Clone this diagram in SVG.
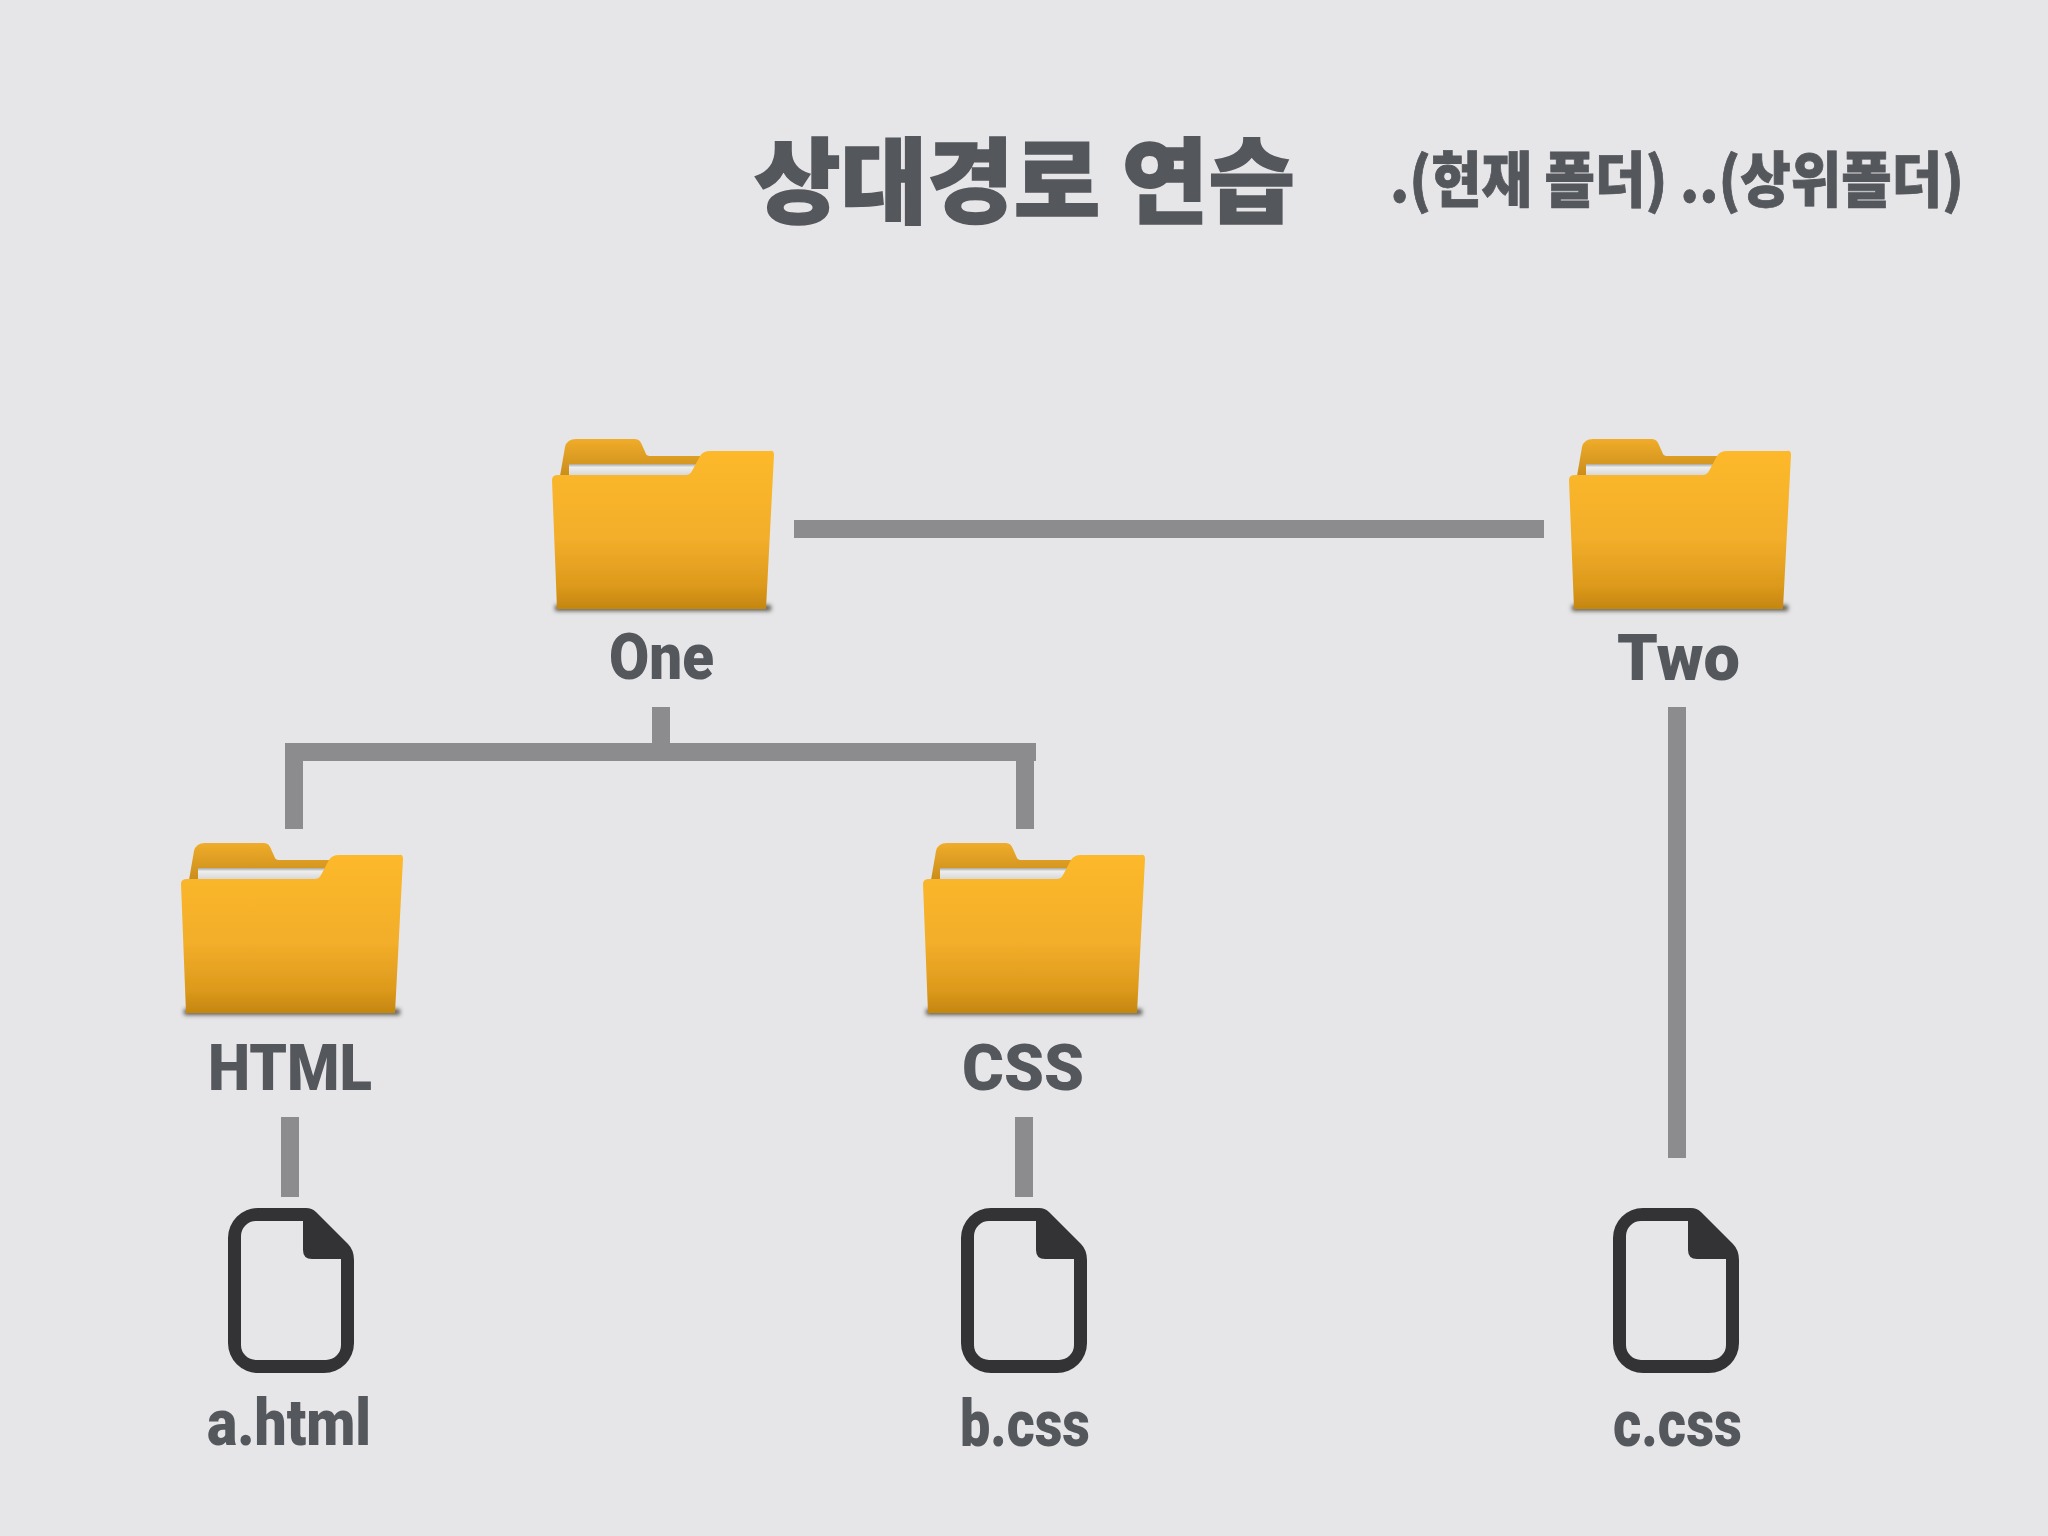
<svg xmlns="http://www.w3.org/2000/svg" width="2048" height="1536" viewBox="0 0 2048 1536">
<style>
.t{font-family:"Noto Sans CJK KR","Noto Sans",sans-serif;font-weight:900;fill:#54575c;stroke:#54575c}
.l{font-family:"Roboto","Liberation Sans",sans-serif;font-weight:900;fill:#54575c;font-size:64px}
.c{fill:none;stroke:#8c8c8f;stroke-width:18}
</style>
<defs>
<linearGradient id="fg" x1="0" y1="0" x2="0" y2="1"><stop offset="0" stop-color="#fdb92c"/><stop offset=".55" stop-color="#f3ae2a"/><stop offset=".85" stop-color="#dd9a1c"/><stop offset="1" stop-color="#c4860f"/></linearGradient>
<linearGradient id="bg" x1="0" y1="0" x2="0" y2="1"><stop offset="0" stop-color="#f0ac2a"/><stop offset="1" stop-color="#c98d1c"/></linearGradient>
<linearGradient id="pg" x1="0" y1="0" x2="0" y2="1"><stop offset="0" stop-color="#a8a8a0"/><stop offset=".3" stop-color="#eeeeee"/><stop offset="1" stop-color="#d8d8d8"/></linearGradient>
<filter id="bl" x="-10%" y="-300%" width="120%" height="700%"><feGaussianBlur stdDeviation="2.2"/></filter>
<filter id="so" x="-2%" y="-2%" width="104%" height="104%"><feGaussianBlur stdDeviation="0.6"/></filter>
<g id="folder">
<path d="M8 38 L13 9 Q15 1 24 1 H83 Q88 1 90 7 L94 16 Q95 18 99 18 H156 V38Z" fill="url(#bg)" filter="url(#so)"/>
<path d="M17 26 H146 L139 37 H17Z" fill="url(#pg)"/>
<rect x="3" y="167" width="216" height="6" fill="#5f5a50" filter="url(#bl)"/>
<path d="M0 42 Q0 37 6 37 H134 Q138 37 140 33 L148 18 Q151 13 158 13 H218 Q222 12 222 17 L214 171 H5Z" fill="url(#fg)" filter="url(#so)"/>
</g>
<path id="file" fill="#333336" fill-rule="evenodd" d="M30 0 H78 Q84 0 88 4 L120 36 Q126 42 126 52 V135 A30 30 0 0 1 96 165 H30 A30 30 0 0 1 0 135 V30 A30 30 0 0 1 30 0Z M28 13 A15 15 0 0 0 13 28 V137 A15 15 0 0 0 28 152 H98 A15 15 0 0 0 113 137 V51 H84 Q75 51 75 42 V13Z"/>
</defs>
<rect width="2048" height="1536" fill="#e6e6e8"/>
<g id="title">
<text class="t" x="754" y="216" font-size="93" stroke-width="1.6" textLength="541" lengthAdjust="spacingAndGlyphs">상대경로 연습</text>
<text class="t" x="1390" y="202" font-size="60" stroke-width="0.8" textLength="574" lengthAdjust="spacingAndGlyphs">.(현재 폴더) ..(상위폴더)</text>
</g>
<g id="connectors">
<path class="c" d="M794 529 H1544"/>
<path class="c" d="M661 707 V751"/>
<path class="c" d="M285 752 H1036"/>
<path class="c" d="M294 752 V829"/>
<path class="c" d="M1025 752 V829"/>
<path class="c" d="M290 1117 V1197"/>
<path class="c" d="M1024 1117 V1197"/>
<path class="c" d="M1677 707 V1158"/>
</g>
<g id="node-one"><use href="#folder" x="552" y="438"/><text class="l" x="609" y="679" textLength="105" lengthAdjust="spacingAndGlyphs">One</text></g>
<g id="node-two"><use href="#folder" x="1569" y="438"/><text class="l" x="1617" y="680" textLength="123" lengthAdjust="spacingAndGlyphs">Two</text></g>
<g id="node-html"><use href="#folder" x="181" y="842"/><text class="l" x="208" y="1090" textLength="164" lengthAdjust="spacingAndGlyphs">HTML</text></g>
<g id="node-css"><use href="#folder" x="923" y="842"/><text class="l" x="962" y="1090" textLength="122" lengthAdjust="spacingAndGlyphs">CSS</text></g>
<g id="node-a"><use href="#file" x="228" y="1208"/><text class="l" x="207" y="1445" textLength="164" lengthAdjust="spacingAndGlyphs">a.html</text></g>
<g id="node-b"><use href="#file" x="961" y="1208"/><text class="l" x="960" y="1446" textLength="130" lengthAdjust="spacingAndGlyphs">b.css</text></g>
<g id="node-c"><use href="#file" x="1613" y="1208"/><text class="l" x="1613" y="1446" textLength="129" lengthAdjust="spacingAndGlyphs">c.css</text></g>
</svg>
